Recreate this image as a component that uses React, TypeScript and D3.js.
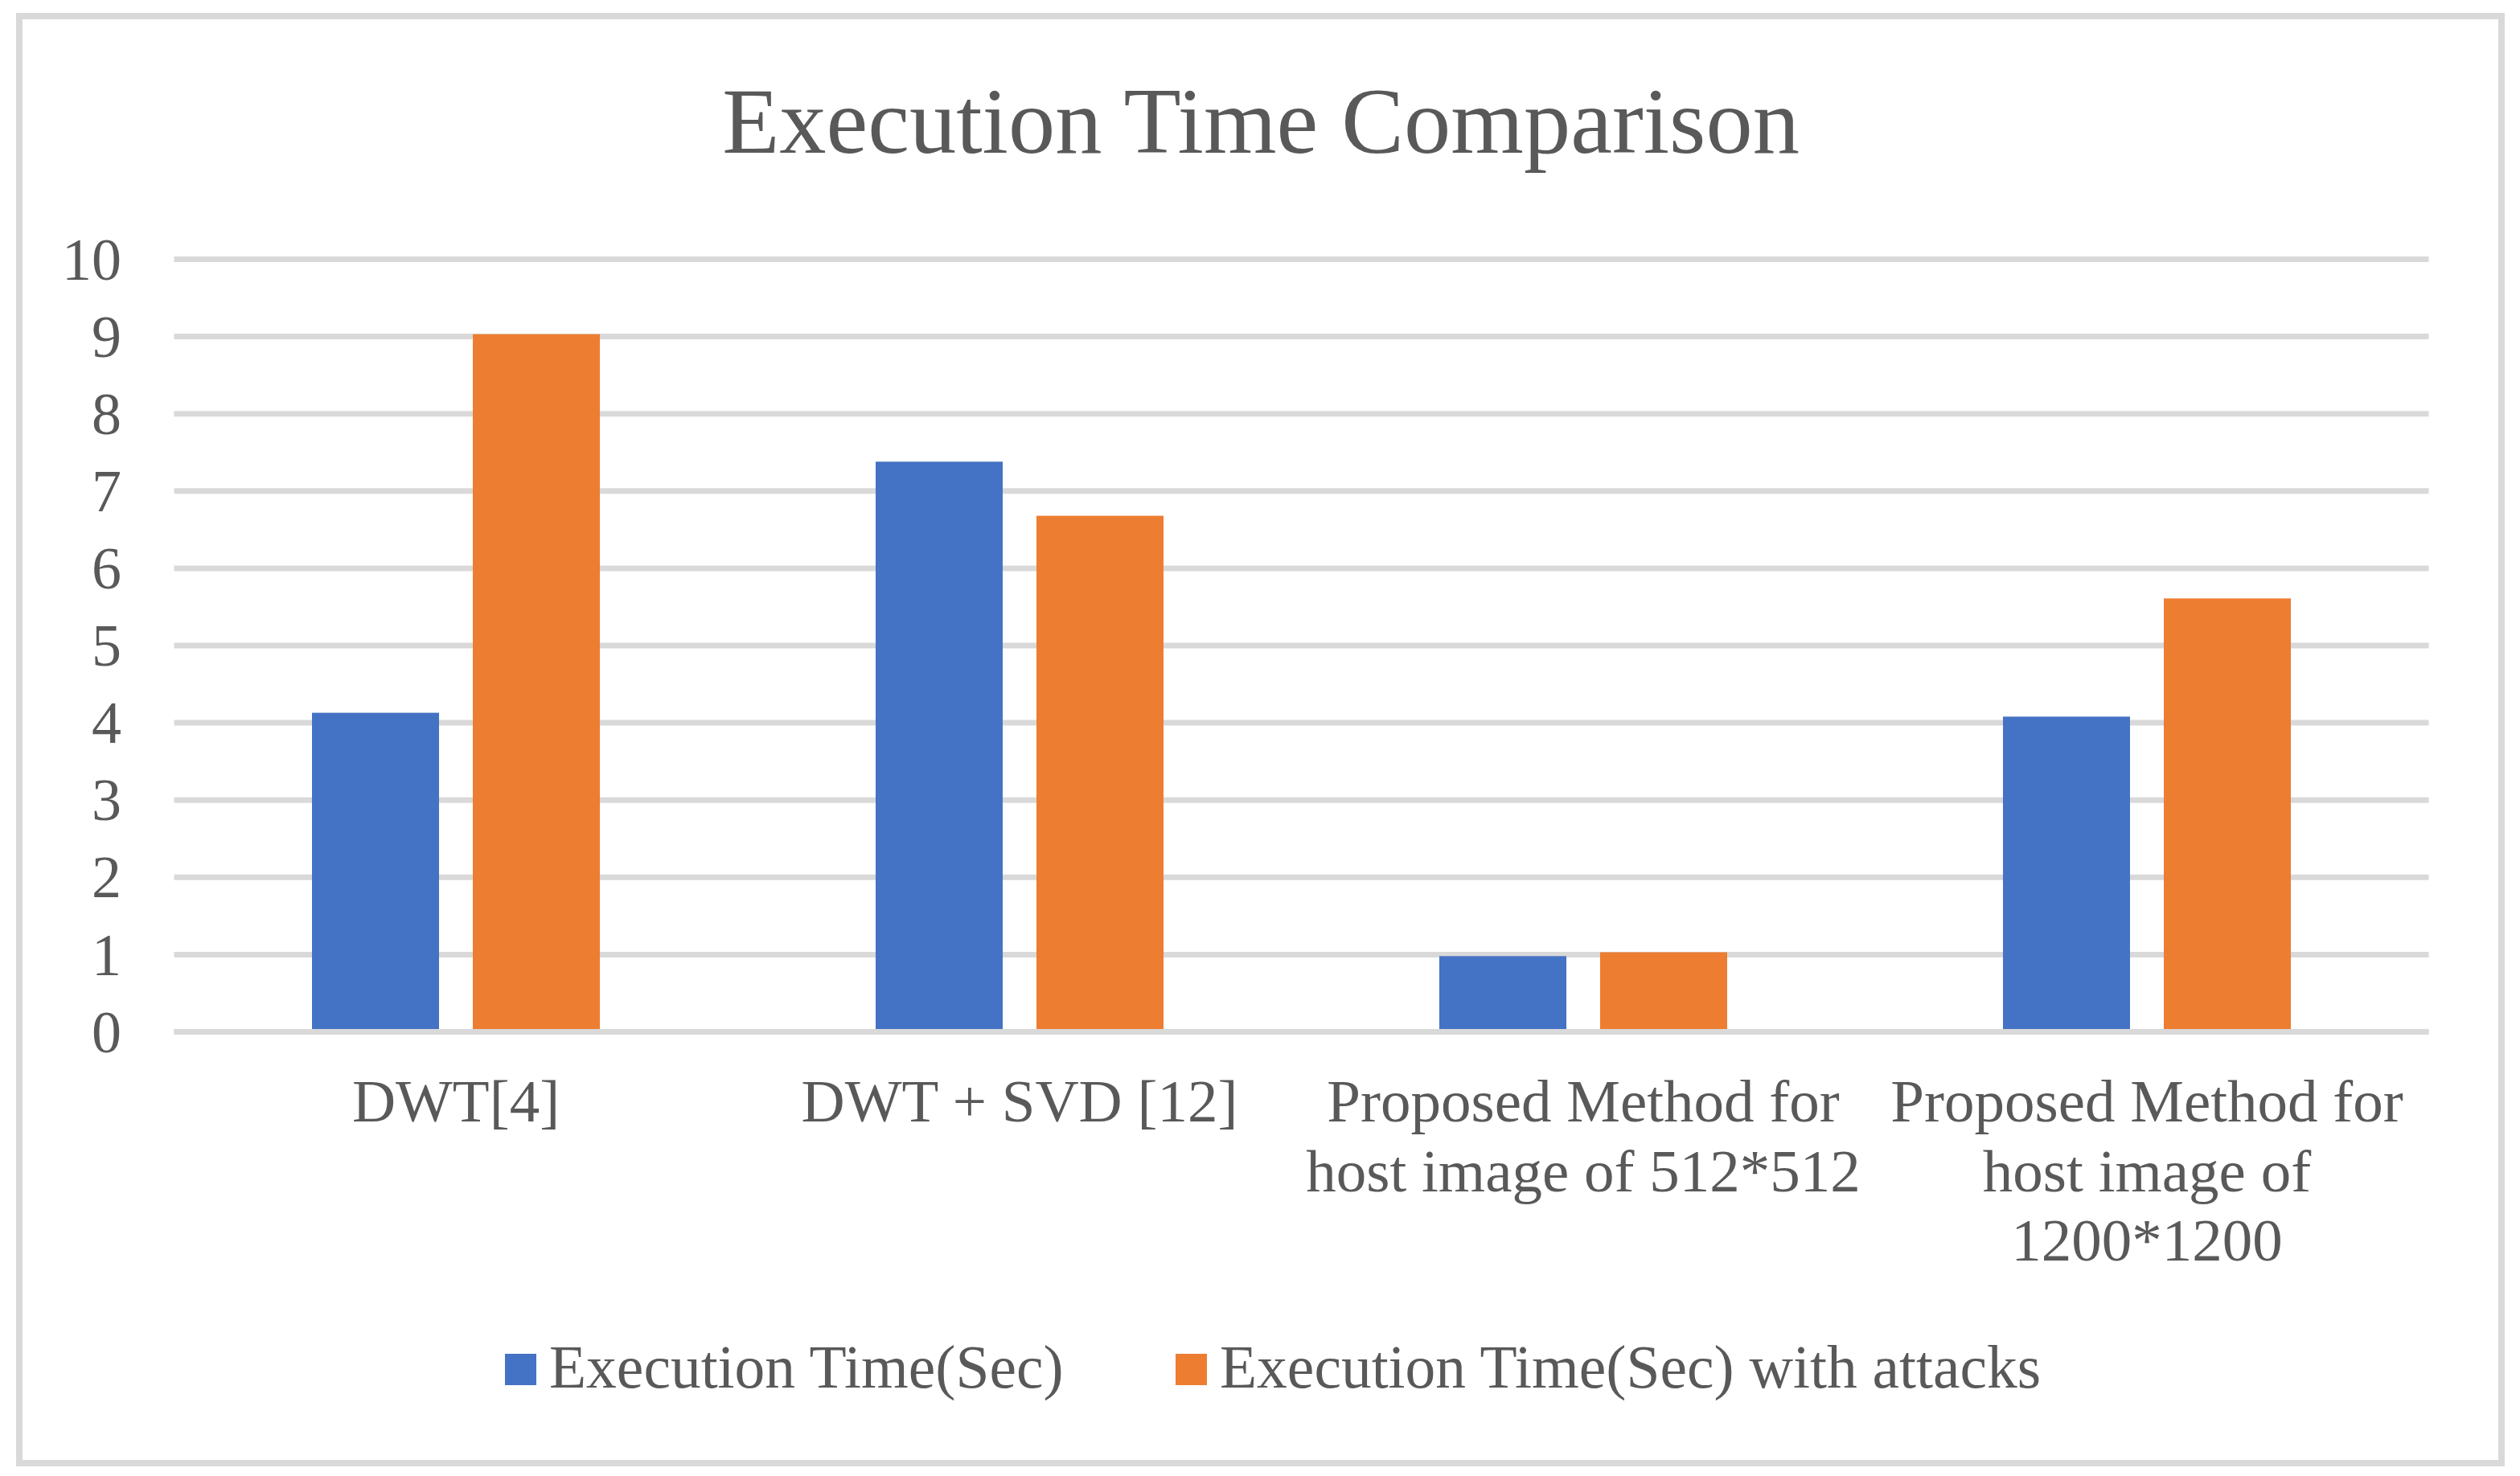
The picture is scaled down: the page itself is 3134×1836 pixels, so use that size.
import React from "react";
import * as d3 from "d3";

const categories = ["DWT[4]", "DWT + SVD [12]", "Proposed Method for host image of 512*512", "Proposed Method for host image of 1200*1200"];
const categoryLines = [
  ["DWT[4]"],
  ["DWT + SVD [12]"],
  ["Proposed Method for", "host image of 512*512"],
  ["Proposed Method for", "host image of", "1200*1200"],
];
const seriesNames = ["Execution Time(Sec)", "Execution Time(Sec) with attacks"];
const execTime = [4.13, 7.38, 0.98, 4.08];
const execTimeAttacks = [9.03, 6.68, 1.03, 5.61];
const yTicks = [0, 1, 2, 3, 4, 5, 6, 7, 8, 9, 10];
const colors = ["#4472C4", "#ED7D31"];
const title = "Execution Time Comparison";

const W = 3134;
const H = 1836;
const FONT = "'Liberation Serif', 'Times New Roman', serif";
const TEXT = "#595959";
const GRID = "#D9D9D9";

export default function App() {
  const x0 = d3.scaleBand<string>().domain(categories).range([216.5, 3020.5]).padding(0);
  const band = x0.bandwidth();
  const groupW = 358;
  const x1 = d3
    .scaleBand<string>()
    .domain(seriesNames)
    .range([(band - groupW) / 2, (band + groupW) / 2])
    .paddingInner(0.21)
    .paddingOuter(0);
  const y = d3.scaleLinear().domain([0, 10]).range([1283.5, 322.5]);
  const seriesValues = [execTime, execTimeAttacks];
  const [gx0, gx1] = x0.range();

  const legendX = [628, 1462];

  return (
    <div style={{ position: "absolute", left: 0, top: 0 }}>
      <svg width={W} height={H} viewBox={`0 0 ${W} ${H}`} style={{ display: "block", background: "#fff" }}>
        <rect x={0} y={0} width={W} height={H} fill="#fff" />
        <rect x={24} y={20} width={3087} height={1800} fill="#fff" stroke={GRID} strokeWidth={8} />
        <text x={1568} y={190} textAnchor="middle" fontFamily={FONT} fontSize={116.5} fill={TEXT}>
          {title}
        </text>
        {yTicks.map((t) => (
          <g key={t}>
            <line x1={gx0} x2={gx1} y1={y(t)} y2={y(t)} stroke={GRID} strokeWidth={7} />
            <text x={151} y={y(t)} dy="0.34em" textAnchor="end" fontFamily={FONT} fontSize={74} fill={TEXT}>
              {t}
            </text>
          </g>
        ))}
        {categories.map((c, i) => (
          <g key={c} transform={`translate(${x0(c)},0)`}>
            {seriesNames.map((s, j) => {
              const v = seriesValues[j][i];
              return (
                <rect
                  key={s}
                  x={x1(s)}
                  y={y(v)}
                  width={x1.bandwidth()}
                  height={y(0) - y(v)}
                  fill={colors[j]}
                />
              );
            })}
            {categoryLines[i].map((ln, k) => (
              <text
                key={k}
                x={band / 2}
                y={1395 + k * 86.5}
                textAnchor="middle"
                fontFamily={FONT}
                fontSize={75}
                fill={TEXT}
              >
                {ln}
              </text>
            ))}
          </g>
        ))}
        <line x1={gx0} x2={gx1} y1={y(0)} y2={y(0)} stroke={GRID} strokeWidth={7} />
        {seriesNames.map((s, j) => (
          <g key={s}>
            <rect x={legendX[j]} y={1684} width={39} height={39} fill={colors[j]} />
            <text x={legendX[j] + 55} y={1726} fontFamily={FONT} fontSize={75.5} fill={TEXT}>
              {s}
            </text>
          </g>
        ))}
      </svg>
    </div>
  );
}
